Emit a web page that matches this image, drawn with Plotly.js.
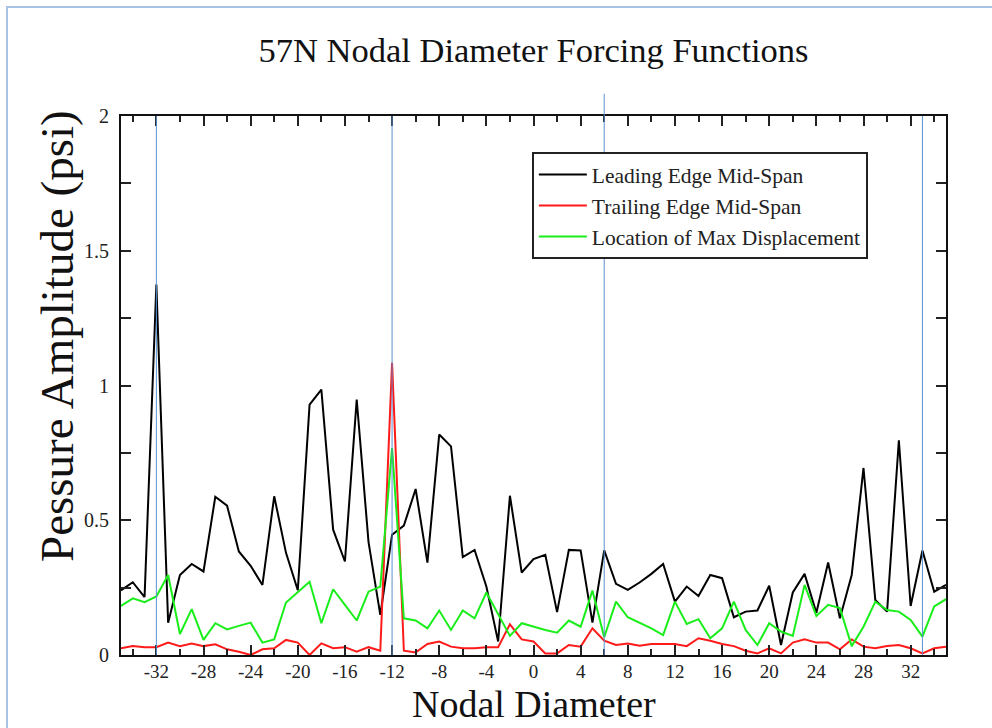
<!DOCTYPE html>
<html>
<head>
<meta charset="utf-8">
<script src="https://cdn.plot.ly/plotly-3.0.1.min.js"></script>
<style>
html, body { margin:0; padding:0; background:#fff; }
#wrap { position:relative; width:992px; height:728px; overflow:hidden; }
#chart { position:absolute; left:0; top:0; width:992px; height:728px; }
#frame { position:absolute; left:6px; top:6px; width:1000px; height:800px; border-left:2px solid #a9c1e2; border-top:2px solid #a9c1e2; pointer-events:none; }
</style>
</head>
<body>
<div id="wrap">
<div id="chart"></div>
<div id="frame"></div>
</div>
<script>
const nodalDiameter = [-35,-34,-33,-32,-31,-30,-29,-28,-27,-26,-25,-24,-23,-22,-21,-20,-19,-18,-17,-16,-15,-14,-13,-12,-11,-10,-9,-8,-7,-6,-5,-4,-3,-2,-1,0,1,2,3,4,5,6,7,8,9,10,11,12,13,14,15,16,17,18,19,20,21,22,23,24,25,26,27,28,29,30,31,32,33,34,35];

const leadingEdge = [0.24,0.27,0.215,1.375,0.12,0.297,0.338,0.31,0.587,0.554,0.384,0.331,0.26,0.589,0.379,0.24,0.929,0.985,0.465,0.347,0.948,0.42,0.149,0.446,0.48,0.616,0.343,0.818,0.774,0.363,0.39,0.254,0.05,0.591,0.306,0.356,0.372,0.159,0.39,0.388,0.12,0.388,0.264,0.242,0.269,0.301,0.338,0.198,0.254,0.219,0.297,0.285,0.14,0.161,0.165,0.257,0.037,0.232,0.301,0.157,0.343,0.136,0.297,0.694,0.204,0.161,0.797,0.182,0.388,0.235,0.26];

const trailingEdge = [0.025,0.033,0.029,0.029,0.046,0.033,0.043,0.033,0.04,0.021,0.012,0.0,0.021,0.025,0.056,0.046,0.0,0.043,0.025,0.029,0.012,0.029,0.016,1.084,0.016,0.009,0.041,0.05,0.031,0.025,0.025,0.029,0.029,0.114,0.058,0.05,0.006,0.006,0.037,0.031,0.099,0.053,0.037,0.043,0.034,0.041,0.041,0.041,0.033,0.062,0.053,0.041,0.033,0.016,0.006,0.025,0.006,0.046,0.058,0.046,0.046,0.021,0.058,0.031,0.025,0.033,0.037,0.025,0.006,0.025,0.031];

const maxDisplacement = [0.182,0.21,0.196,0.217,0.297,0.078,0.17,0.056,0.118,0.095,0.108,0.12,0.046,0.058,0.195,0.235,0.272,0.118,0.244,0.186,0.128,0.235,0.254,0.768,0.136,0.128,0.099,0.165,0.093,0.165,0.136,0.232,0.149,0.071,0.118,0.105,0.093,0.083,0.128,0.105,0.239,0.066,0.198,0.14,0.12,0.099,0.074,0.198,0.115,0.133,0.062,0.099,0.198,0.093,0.037,0.118,0.087,0.071,0.26,0.145,0.186,0.174,0.033,0.105,0.198,0.167,0.161,0.13,0.068,0.18,0.207];

const seriesNames = ["Leading Edge Mid-Span", "Trailing Edge Mid-Span", "Location of Max Displacement"];
const xTickVals = [-32,-28,-24,-20,-16,-12,-8,-4,0,4,8,12,16,20,24,28,32];
const xTickText = ["-32","-28","-24","-20","-16","-12","-8","-4","0","4","8","12","16","20","24","28","32"];
const yTickVals = [0, 0.5, 1, 1.5, 2];
const yTickText = ["0", "0.5", "1", "1.5", "2"];
const markerLines = [-32, -12, 6, 33];
const markerLineTops = [1, 1, 1.041, 1];

const chartTitle = '57N Nodal Diameter Forcing Functions';
const xTitle = 'Nodal Diameter';
const yTitle = 'Pessure Amplitude (psi)';

const serif = "'Liberation Serif', 'Times New Roman', 'DejaVu Serif', serif";

const traces = [
  {x: nodalDiameter, y: leadingEdge, name: seriesNames[0], mode: 'lines', line: {color: '#000000', width: 2}},
  {x: nodalDiameter, y: trailingEdge, name: seriesNames[1], mode: 'lines', line: {color: '#ff1a1a', width: 2}},
  {x: nodalDiameter, y: maxDisplacement, name: seriesNames[2], mode: 'lines', line: {color: '#1aee1a', width: 2}}
];

const shapes = markerLines.map((v, i) => ({
  type: 'line', xref: 'x', yref: 'paper', x0: v, x1: v, y0: 0, y1: markerLineTops[i],
  line: {color: '#5b8fd3', width: 1}, layer: 'above'
}));

const layout = {
  width: 992, height: 728,
  margin: {l: 121, r: 46, t: 116, b: 73, pad: 0},
  paper_bgcolor: '#ffffff', plot_bgcolor: '#ffffff',
  font: {family: serif, color: '#111'},
  showlegend: true,
  title: {
    text: chartTitle,
    font: {family: serif, size: 34.5, color: '#111'},
    x: 0.5, xref: 'paper', xanchor: 'center',
    y: 1 - 50/728, yref: 'container', yanchor: 'middle'
  },
  xaxis: {
    range: [-35, 35], tickmode: 'array', tickvals: xTickVals, ticktext: xTickText,
    ticks: 'inside', ticklen: 10, tickwidth: 2, tickcolor: '#222',
    minor: {tickmode: 'linear', tick0: -34, dtick: 2, ticks: 'inside', ticklen: 6, tickwidth: 2, tickcolor: '#222'},
    showline: true, linecolor: '#111', linewidth: 2, mirror: 'allticks',
    showgrid: false, zeroline: false,
    ticklabelstandoff: -2,
    tickfont: {family: serif, size: 19, color: '#222'}
  },
  yaxis: {
    range: [0, 2], tickmode: 'array', tickvals: yTickVals, ticktext: yTickText,
    ticks: 'inside', ticklen: 10, tickwidth: 2, tickcolor: '#222',
    minor: {tickmode: 'linear', tick0: 0, dtick: 0.25, ticks: 'inside', ticklen: 10, tickwidth: 2, tickcolor: '#222'},
    showline: true, linecolor: '#111', linewidth: 2, mirror: 'allticks',
    showgrid: false, zeroline: false,
    ticklabelstandoff: 6,
    tickfont: {family: serif, size: 20, color: '#222'}
  },
  legend: {
    x: 0.498, y: 0.933, xanchor: 'left', yanchor: 'top',
    bgcolor: '#ffffff', bordercolor: '#222', borderwidth: 2,
    font: {family: serif, size: 21.5, color: '#222'},
    itemwidth: 48
  },
  annotations: [
    {text: xTitle, xref: 'paper', yref: 'paper', x: 0.5, y: (655 - 704) / 539,
     xanchor: 'center', yanchor: 'middle', showarrow: false,
     font: {family: serif, size: 38, color: '#111'}},
    {text: yTitle, xref: 'paper', yref: 'paper', x: (57 - 121) / 825, y: (655 - 336) / 539,
     xanchor: 'center', yanchor: 'middle', showarrow: false, textangle: -90,
     font: {family: serif, size: 47, color: '#111'}}
  ],
  shapes: shapes
};

Plotly.newPlot('chart', traces, layout, {staticPlot: true, displayModeBar: false});
</script>
</body>
</html>
